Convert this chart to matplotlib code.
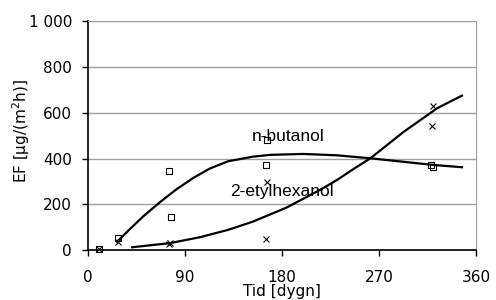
import numpy as np
import matplotlib.pyplot as plt
from matplotlib.ticker import FuncFormatter

# measured points
but_x = [10, 28, 75, 77, 166, 165, 318, 320]
but_y = [6, 52, 345, 144, 481, 370, 372, 362]
eh_x = [10, 28, 75, 76, 166, 165, 320, 319]
eh_y = [5, 36, 25, 30, 297, 47, 630, 544]

# fitted curves
but_cx = [27, 39, 51, 67, 82, 98, 113, 130, 153, 169, 200, 231, 262, 292, 320, 347]
but_cy = [36, 92, 146, 210, 265, 316, 356, 388, 408, 416, 420, 414, 401, 386, 372, 362]
eh_cx = [41, 76, 104, 130, 153, 184, 215, 231, 246, 262, 293, 324, 347]
eh_cy = [12, 30, 56, 88, 124, 185, 262, 306, 353, 401, 517, 620, 675]

xticks = [0, 90, 180, 270, 360]
yticks = [0, 200, 400, 600, 800, 1000]

fig = plt.figure(figsize=(4.96, 3.0), dpi=100)
ax = fig.add_axes([0.1774, 0.1667, 0.7823, 0.7623])

ax.plot(but_cx, but_cy, color='black', lw=1.6)
ax.plot(eh_cx, eh_cy, color='black', lw=1.6)
ax.plot(but_x, but_y, 's', ms=4, mfc='none', mec='black', mew=0.8, clip_on=False, zorder=4)
ax.plot(eh_x, eh_y, 'x', ms=4, mec='black', mew=0.8, clip_on=False, zorder=4)

ax.text(186, 495, 'n-butanol', fontsize=12.5, family='Liberation Sans', ha='center', va='center')
ax.text(180, 257, '2-etylhexanol', fontsize=12.5, family='Liberation Sans', ha='center', va='center')

ax.set_xlim(0, 360)
ax.set_ylim(0, 1000)
ax.set_xticks(xticks)
ax.set_yticks(yticks)
ax.yaxis.set_major_formatter(FuncFormatter(lambda v, p: '{:,}'.format(int(v)).replace(',', ' ')))
ax.tick_params(direction='out', length=4.5, width=1, labelsize=11, colors='black')
ax.tick_params(axis='x', pad=10)
ax.tick_params(axis='y', pad=7)
ax.grid(axis='y', color='#a0a0a0', lw=1)
ax.set_axisbelow(True)
for s in ['top', 'right']:
    ax.spines[s].set_color('#a0a0a0')
for s in ['left', 'bottom']:
    ax.spines[s].set_linewidth(1.2)

ax.set_xlabel('Tid [dygn]', fontsize=11)
ax.xaxis.set_label_coords(0.5, -0.15)
ax.set_ylabel('EF [µg/(m$^2$h)]', fontsize=11, va='center')
ax.yaxis.set_label_coords(-0.172, 0.52)

fig.savefig('out.png', dpi=100)
